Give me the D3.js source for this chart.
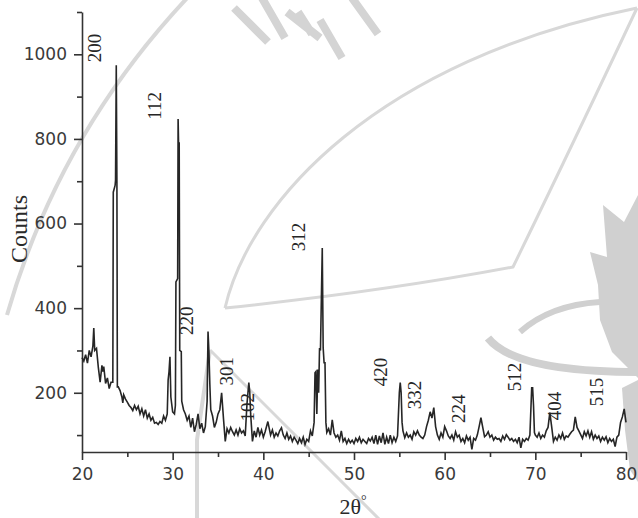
<!DOCTYPE html>
<html>
<head>
<meta charset="utf-8">
<script src="https://cdn.jsdelivr.net/npm/d3@7"></script>
<style>
  html, body { margin: 0; padding: 0; background: #fff; }
  svg { display: block; }
</style>
</head>
<body>
<svg id="chart" width="638" height="518"></svg>
<script>
// ---------------- DATA ----------------
const twoTheta = [
  20.0,20.2,20.4,20.6,20.8,21.0,21.2,21.3,21.4,21.6,21.8,22.0,22.2,22.3,22.4,22.6,22.8,23.0,23.2,23.4,
  23.45,23.65,23.7,23.78,23.85,23.9,24.0,24.2,24.4,24.5,24.6,24.8,25.0,25.2,25.4,25.6,25.8,26.0,26.2,26.4,
  26.6,26.8,27.0,27.2,27.4,27.6,27.8,28.0,28.2,28.4,28.6,28.8,29.0,29.2,29.4,29.5,29.6,29.7,29.8,30.0,
  30.2,30.3,30.36,30.55,30.6,30.65,30.72,30.78,30.95,31.0,31.2,31.4,31.6,31.8,32.0,32.2,32.4,32.6,32.8,33.0,
  33.2,33.4,33.6,33.8,33.9,34.0,34.1,34.2,34.4,34.6,34.8,35.0,35.2,35.4,35.6,35.8,36.0,36.2,36.4,36.6,
  36.8,37.0,37.2,37.4,37.6,37.8,38.0,38.2,38.4,38.5,38.6,38.8,39.0,39.2,39.4,39.6,39.8,40.0,40.2,40.5,
  40.8,41.0,41.2,41.4,41.6,41.8,42.0,42.2,42.4,42.6,42.8,43.0,43.2,43.4,43.6,43.8,44.0,44.2,44.4,44.6,
  44.8,45.0,45.2,45.4,45.6,45.7,45.8,45.9,46.0,46.1,46.2,46.3,46.5,46.6,46.7,46.8,46.9,47.0,47.2,47.4,
  47.6,47.8,48.0,48.2,48.4,48.6,48.8,49.0,49.2,49.4,49.6,49.8,50.0,50.2,50.4,50.6,50.8,51.0,51.2,51.4,
  51.6,51.8,52.0,52.2,52.4,52.6,52.8,53.0,53.2,53.4,53.6,53.8,54.0,54.2,54.4,54.6,54.8,55.0,55.1,55.2,
  55.3,55.4,55.6,55.8,56.0,56.2,56.4,56.6,56.8,57.0,57.2,57.4,57.6,57.8,58.0,58.2,58.4,58.6,58.8,59.0,
  59.2,59.4,59.6,59.8,60.0,60.2,60.4,60.6,60.8,61.0,61.2,61.4,61.6,61.8,62.0,62.2,62.4,62.6,62.8,63.0,
  63.2,63.4,63.6,63.8,64.0,64.2,64.4,64.6,64.8,65.0,65.2,65.4,65.6,65.8,66.0,66.2,66.4,66.6,66.8,67.0,
  67.2,67.4,67.6,67.8,68.0,68.2,68.4,68.6,68.8,69.0,69.2,69.4,69.6,69.7,69.8,69.9,70.0,70.2,70.4,70.6,
  70.8,71.0,71.2,71.4,71.6,71.8,72.0,72.2,72.4,72.6,72.8,73.0,73.2,73.4,73.6,73.8,74.0,74.2,74.4,74.6,
  74.8,75.0,75.2,75.4,75.6,75.8,76.0,76.2,76.4,76.6,76.8,77.0,77.2,77.4,77.6,77.8,78.0,78.2,78.4,78.6,
  78.8,79.0,79.2,79.4,79.6,79.8,80.0
];
const counts = [
  283,275,290,270,300,285,310,353,300,305,260,225,265,250,262,222,235,210,225,225,
  674,690,703,974,700,214,214,205,190,176,195,185,178,170,165,158,170,160,168,150,
  162,145,160,140,150,135,142,128,130,125,132,128,145,135,150,230,250,285,190,155,
  150,170,462,470,847,790,790,300,297,180,160,150,135,145,118,140,108,125,150,115,
  128,105,120,180,345,296,220,160,145,118,130,150,160,200,140,85,115,105,118,108,
  100,112,100,115,105,110,98,175,224,202,150,85,110,95,118,100,112,95,108,132,
  100,112,95,105,98,110,117,100,92,105,90,98,85,95,88,80,92,82,95,78,
  90,85,110,98,130,247,250,150,255,200,306,300,542,306,271,271,130,106,115,100,
  136,105,95,100,88,110,85,92,80,90,82,88,80,92,85,95,82,90,85,80,
  92,86,95,80,100,78,98,82,105,78,95,80,100,82,95,85,98,200,224,200,
  130,110,94,105,95,100,90,108,100,110,100,95,92,100,120,135,155,140,165,120,
  100,90,105,95,120,110,98,92,100,88,108,95,100,85,92,82,98,88,95,66,
  92,88,100,120,141,118,96,100,108,95,100,88,95,90,92,85,98,90,101,95,
  88,92,85,90,82,95,70,90,85,92,88,100,212,212,170,106,100,95,105,92,
  100,95,110,118,153,120,85,95,88,100,92,105,90,98,95,102,108,112,143,118,
  110,101,92,108,98,110,95,108,90,100,92,98,85,95,88,96,82,92,85,90,
  73,95,100,130,143,162,130
];

// peak annotations (Miller indices) and their positions in data space
const peakLabels = ["200","112","312","220","301","102","420","332","224","512","404","515"];
const peakLabelTheta = [21.43,28.05,43.93,31.58,35.99,38.2,52.87,56.62,61.58,67.65,72.06,76.8];
const peakLabelCount = [1015,878,568,370,251,166,249,195,162,237,169,202];

const xMajorTicks = [20,30,40,50,60,70,80];
const xMinorTicks = [25,35,45,55,65,75];
const yMajorTicks = [200,400,600,800,1000];
const yMinorTicks = [100,300,500,700,900,1100];

const xTitle = "2θ";
const yTitle = "Counts";

// ---------------- CHART ----------------
const svg = d3.select("#chart");

// faint background watermark (decorative)
const wm = svg.append("g").attr("class","watermark").attr("fill","none").attr("stroke","#d8d8d8");
wm.append("path").attr("d","M7,315 C40,200 100,90 190,-5").attr("stroke-width",4);
wm.append("path").attr("d","M225,308 C250,200 380,60 637,8").attr("stroke-width",3);
wm.append("path").attr("d","M225,308 Q380,292 513,267 Q570,150 637,8").attr("stroke-width",3);
wm.append("path").attr("d","M210,350 L380,520").attr("stroke-width",3);
wm.append("path").attr("d","M210,350 L197,440 L197,520").attr("stroke-width",4);
wm.append("path").attr("d","M234,8 L268,42 M262,-2 L285,38 M298,12 L312,34 M287,12 L320,38 M320,20 L342,58 M352,-2 L378,34").attr("stroke-width",8).attr("stroke","#d4d4d4");
wm.append("path").attr("d","M520,332 Q550,305 600,302").attr("stroke-width",6).attr("stroke","#d0d0d0");
wm.append("path").attr("d","M488,338 Q515,372 638,372").attr("stroke-width",8).attr("stroke","#d0d0d0");
wm.append("path").attr("d","M603,205 L624,222 L638,195 L638,378 L612,352 L600,320 L598,285 L590,252 L607,257 Z")
  .attr("fill","#d0d0d0").attr("stroke","none");
wm.append("path").attr("d","M622,388 L638,380 L638,482 L630,470 L625,430 Z")
  .attr("fill","#d0d0d0").attr("stroke","none");

const x = d3.scaleLinear().domain([20,80]).range([82,626]);
const y = d3.scaleLinear().domain([60,1100]).range([452,12]);

const axisColor = "#333";
const tickFont = "DejaVu Sans, Verdana, sans-serif";

// X axis
const gx = svg.append("g").attr("transform",`translate(0,${y(60)})`);
gx.call(d3.axisBottom(x).tickValues(xMajorTicks).tickSize(8).tickSizeOuter(0).tickPadding(8).tickFormat(d3.format("d")));
const gxm = svg.append("g").attr("transform",`translate(0,${y(60)})`);
gxm.call(d3.axisBottom(x).tickValues(xMinorTicks).tickSize(5).tickSizeOuter(0).tickFormat(""));
gxm.select(".domain").remove();

// Y axis
const gy = svg.append("g").attr("transform",`translate(${x(20)},0)`);
gy.call(d3.axisLeft(y).tickValues(yMajorTicks).tickSize(8).tickSizeOuter(0).tickPadding(7).tickFormat(d3.format("d")));
const gym = svg.append("g").attr("transform",`translate(${x(20)},0)`);
gym.call(d3.axisLeft(y).tickValues(yMinorTicks).tickSize(5).tickSizeOuter(0).tickFormat(""));
gym.select(".domain").remove();

svg.selectAll(".domain, .tick line").attr("stroke",axisColor).attr("stroke-width",1.6);
svg.selectAll(".tick text").attr("fill","#3a3a3a").attr("font-family",tickFont).attr("font-size",17);

// data line
const line = d3.line().x((d,i)=>x(twoTheta[i])).y(d=>y(d));
svg.append("path")
  .datum(counts)
  .attr("fill","none")
  .attr("stroke","#262626")
  .attr("stroke-width",1.6)
  .attr("stroke-linejoin","miter")
  .attr("d",line);

// peak labels
const serif = "Liberation Serif, Times New Roman, serif";
svg.append("g").selectAll("text")
  .data(peakLabels)
  .join("text")
  .attr("transform",(d,i)=>`translate(${x(peakLabelTheta[i])},${y(peakLabelCount[i])}) rotate(-90)`)
  .attr("text-anchor","middle")
  .attr("dominant-baseline","central")
  .attr("font-family",serif)
  .attr("font-size",19)
  .attr("fill","#262626")
  .text(d=>d);

// axis titles
svg.append("text")
  .attr("transform",`translate(19,229) rotate(-90)`)
  .attr("text-anchor","middle")
  .attr("dominant-baseline","central")
  .attr("font-family",serif)
  .attr("font-size",24)
  .attr("fill","#2a2a2a")
  .text(yTitle);

const xt = svg.append("text")
  .attr("x",353).attr("y",514)
  .attr("text-anchor","middle")
  .attr("font-family",serif)
  .attr("font-size",22)
  .attr("fill","#2a2a2a");
xt.append("tspan").text(xTitle);
xt.append("tspan").attr("dy",-9).attr("font-size",14).text("°");
</script>
</body>
</html>
